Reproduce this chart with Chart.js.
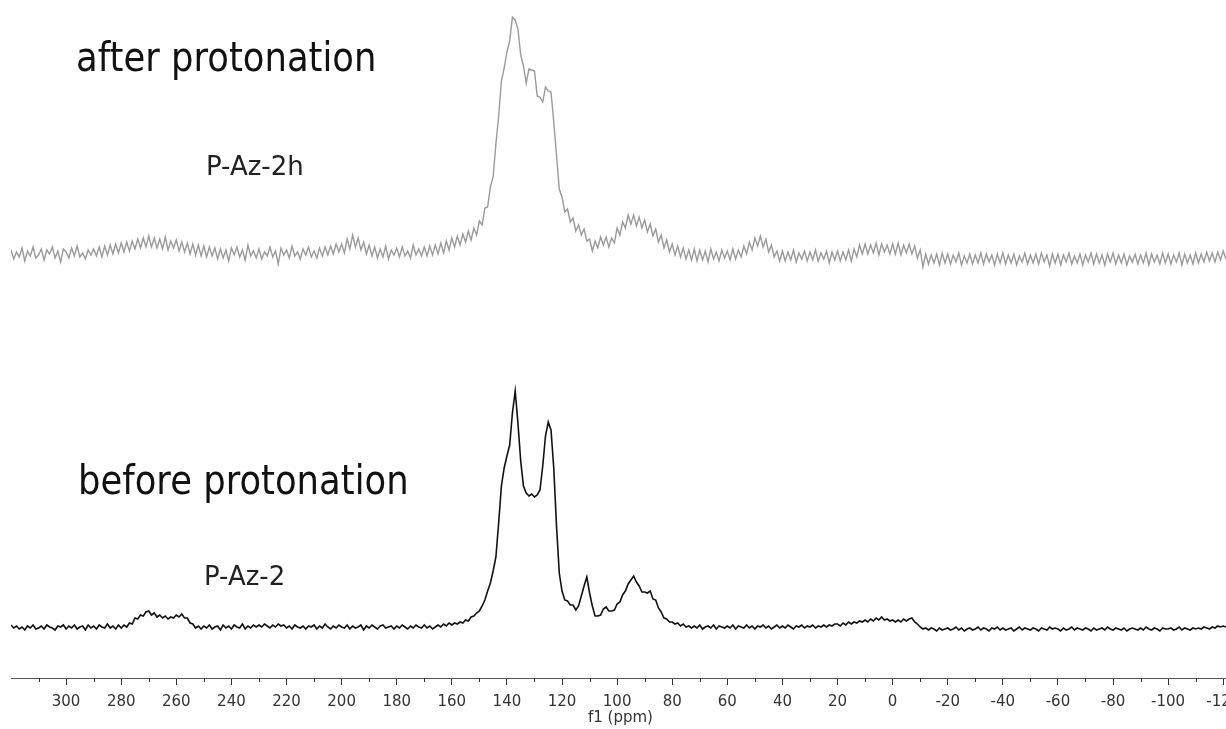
<!DOCTYPE html>
<html lang="en">
<head>
<meta charset="UTF-8">
<title>P-Az-2 spectra before / after protonation</title>
<script src="https://cdn.jsdelivr.net/npm/chart.js"></script>
<style>
  body { margin: 0; background: #fff; }
  #wrap { width: 1226px; height: 729px; overflow: hidden; }
</style>
</head>
<body>
<div id="wrap"><canvas id="nmrChart" width="1226" height="729"></canvas></div>
<script>
    // chemical shift grid: first point and spacing (ppm), one value per ppm
    const ppmStart = 320;
    const ppmStep = 1;

    // tick labels of the f1 axis
    const majorTicks = [300, 280, 260, 240, 220, 200, 180, 160, 140, 120, 100, 80, 60, 40, 20, 0, -20, -40, -60, -80, -100, -120];
    const minorTicks = [310, 290, 270, 250, 230, 210, 190, 170, 150, 130, 110, 90, 70, 50, 30, 10, -10, -30, -50, -70, -90, -110];

    // before protonation (P-Az-2), intensity from 320 to -121 ppm
    const beforeValues = [
        2,-1,1,-2,0,-3,1,-1,2,-2,
        -1,1,-2,2,0,-1,-3,1,0,2,
        -2,1,-1,2,-2,0,1,-3,2,-1,
        1,-2,2,0,-1,3,-1,1,-2,2,
        -1,2,0,4,3,9,8,12,11,15,
        16,12,14,10,12,9,11,8,10,9,
        12,10,13,9,9,4,3,-1,1,-2,
        1,-1,2,-2,0,1,-3,2,-1,1,
        -2,2,0,-1,3,-2,1,-1,2,0,
        2,0,3,1,-1,2,0,3,1,2,
        -1,1,-2,2,0,-1,1,-2,1,0,
        2,-2,1,-1,3,0,-2,1,-1,2,
        0,-1,2,-2,1,-1,0,2,-3,1,
        -1,2,0,-2,1,2,-1,0,1,-2,
        1,-1,2,0,-2,1,-1,2,0,-1,
        2,-1,1,-2,0,2,0,3,1,4,
        2,4,3,5,4,7,6,10,11,14,
        16,21,27,36,44,56,70,104,141,159,
        171,182,214,236,204,166,141,134,131,133,
        130,132,137,161,191,205,197,159,101,54,
        36,27,26,22,22,17,21,31,41,50,
        34,21,11,11,12,18,20,16,16,17,
        23,25,32,36,43,47,51,45,41,35,
        35,34,36,28,27,19,15,9,8,5,
        5,3,4,1,3,0,1,-1,1,-1,
        2,-2,0,1,-1,2,-2,1,0,-1,
        1,-1,2,-2,1,0,-1,2,-1,1,
        -2,1,0,2,-1,1,-2,0,2,-1,
        1,-1,2,0,-2,1,0,2,-1,1,
        0,2,-1,1,0,2,0,2,1,3,
        3,1,4,2,5,3,5,4,6,5,
        7,5,8,6,9,7,10,7,8,6,
        7,5,7,5,8,6,8,9,5,3,
        0,-2,-1,-3,-1,-2,-4,-1,-3,-2,
        -1,-3,-2,0,-3,-1,-4,-2,-1,-3,
        -2,0,-3,-1,-2,-4,-1,-2,0,-3,
        -1,-3,-2,-1,-4,-2,0,-3,-1,-2,
        -3,-1,-2,-4,-1,-2,-3,0,-2,-1,
        -2,-4,-1,-3,-2,0,-3,-1,-2,-3,
        -1,-2,-4,-1,-3,-2,-1,-3,0,-2,
        -3,-1,-2,-3,-1,-4,-2,-1,-2,-3,
        -1,-3,0,-2,-3,-1,-2,-4,-1,-2,
        -2,-1,-3,-2,0,-3,-1,-2,-3,-1,
        -2,-1,-2,0,-1,-2,0,-1,1,0,
        1,0
    ];

    // after protonation (P-Az-2h), intensity from 320 to -121 ppm
    const afterValues = [
        3,-6,1,-4,5,-8,2,-3,6,-5,
        -2,4,-7,3,-1,6,-5,2,-9,4,
        1,-5,5,-3,7,-4,0,-6,3,-2,
        4,-3,6,-4,7,-2,8,-1,9,0,
        10,1,11,2,12,4,14,5,15,6,
        17,6,15,5,14,4,16,3,12,5,
        13,2,11,1,10,-1,9,-2,8,-3,
        7,-4,6,-3,5,-6,4,-5,3,-8,
        5,-2,6,-4,3,-7,8,-3,2,-5,
        4,-6,1,-3,6,-4,2,-11,5,-2,
        3,-5,7,-3,1,-6,4,-2,6,-4,
        2,-5,5,-3,6,-2,7,-1,9,1,
        9,0,14,4,18,6,15,3,11,-1,
        8,-3,6,-5,4,-4,7,-6,3,-2,
        5,-4,6,-3,2,-5,8,-2,4,-3,
        6,-3,7,-2,8,-1,10,0,12,3,
        15,6,17,8,19,11,22,13,25,18,
        32,28,45,46,66,76,109,137,172,185,
        201,212,236,233,224,198,187,170,184,183,
        182,157,156,151,166,162,161,131,98,64,
        56,41,44,31,35,22,28,18,24,12,
        14,2,12,5,16,8,16,6,15,10,
        25,18,31,25,38,29,38,27,36,25,
        33,21,29,17,24,11,18,5,13,1,
        9,-2,7,-4,5,-6,3,-7,4,-8,
        3,-7,2,-9,4,-6,1,-8,3,-5,
        2,-7,4,-6,3,-4,7,-1,11,3,
        15,7,17,6,14,1,8,-4,2,-8,
        2,-8,1,-7,3,-9,0,-6,2,-8,
        1,-7,3,-8,0,-6,2,-10,1,-7,
        2,-8,1,-7,3,-8,4,-4,8,-1,
        9,-1,8,0,10,-2,9,1,8,-1,
        9,-1,10,-2,8,0,9,-1,7,-5,
        3,-14,-1,-11,-2,-10,-1,-12,0,-10,
        -1,-11,-2,-9,0,-12,-3,-10,-1,-11,
        -2,-10,0,-11,-1,-9,-2,-12,-1,-10,
        0,-11,-2,-10,-1,-12,-3,-9,0,-11,
        -2,-10,-1,-11,0,-9,-2,-13,-1,-10,
        -1,-12,-2,-9,0,-11,-3,-10,-1,-12,
        -2,-9,0,-11,-1,-10,-2,-12,-1,-9,
        0,-11,-2,-10,-1,-12,-3,-9,-1,-11,
        -2,-10,0,-12,-1,-9,-2,-11,0,-10,
        -1,-11,-2,-9,0,-12,-1,-10,-2,-11,
        0,-10,-1,-9,1,-8,0,-9,1,-7,
        2,-6
    ];

    const titles = ["after protonation", "before protonation"];
    const sampleNames = ["P-Az-2h", "P-Az-2"];
    const axisTitle = "f1 (ppm)";

    function toPoints(values) {
        return values.map((v, i) => ({ x: ppmStart - i * ppmStep, y: v }));
    }

    // minor ticks, axis title and the texts on the plot
    const extras = {
        id: 'extras',
        afterDraw(chart) {
            const ctx = chart.ctx;
            const xs = chart.scales.x;
            ctx.save();
            ctx.strokeStyle = '#333';
            ctx.lineWidth = 1;
            minorTicks.forEach(t => {
                const px = Math.round(xs.getPixelForValue(t)) + 0.5;
                ctx.beginPath();
                ctx.moveTo(px, xs.top);
                ctx.lineTo(px, xs.top + 4);
                ctx.stroke();
            });

            ctx.fillStyle = '#333';
            ctx.font = '15px "DejaVu Sans"';
            ctx.textAlign = 'center';
            ctx.textBaseline = 'middle';
            ctx.fillText(axisTitle, (xs.left + xs.right) / 2 + 2, xs.top + 40);

            ctx.textAlign = 'left';
            ctx.fillStyle = '#111';
            ctx.textBaseline = 'alphabetic';
            ctx.font = '40px "DejaVu Sans"';
            [[76, 71], [78, 494]].forEach((p, i) => {
                ctx.save();
                ctx.translate(p[0], p[1]);
                ctx.scale(0.885, 1);
                ctx.fillText(titles[i], 0, 0);
                ctx.restore();
            });

            ctx.fillStyle = '#222';
            ctx.font = '26px "DejaVu Sans"';
            ctx.fillText(sampleNames[0], 206, 175);
            ctx.fillText(sampleNames[1], 204, 585);
            ctx.restore();
        }
    };

    const chart = new Chart(document.getElementById("nmrChart"), {
        type: 'line',
        data: {
            datasets: [
                {
                    label: 'P-Az-2h',
                    data: toPoints(afterValues),
                    borderColor: '#9a9a9a',
                    borderWidth: 1.4,
                    pointRadius: 0,
                    tension: 0,
                    yAxisID: 'yUp'
                },
                {
                    label: 'P-Az-2',
                    data: toPoints(beforeValues),
                    borderColor: '#111',
                    borderWidth: 1.6,
                    pointRadius: 0,
                    tension: 0,
                    yAxisID: 'yLow'
                }
            ]
        },
        options: {
            responsive: false,
            animation: false,
            events: [],
            layout: { padding: { left: 11, right: 0, top: 0, bottom: 10 } },
            plugins: {
                legend: { display: false },
                tooltip: { enabled: false }
            },
            scales: {
                x: {
                    type: 'linear',
                    reverse: true,
                    min: -121,
                    max: 320,
                    border: { color: '#555', width: 1 },
                    grid: { drawOnChartArea: false, tickLength: 7, color: '#333' },
                    ticks: {
                        color: '#333',
                        padding: 8,
                        maxRotation: 0,
                        autoSkip: false,
                        font: { family: 'DejaVu Sans', size: 15 }
                    },
                    afterBuildTicks: (scale) => {
                        scale.ticks = majorTicks.map(v => ({ value: v }));
                    },
                    afterFit: (scale) => {
                        scale.paddingLeft = 0;
                        scale.paddingRight = 0;
                    }
                },
                yLow: { display: false, min: -51, max: 627 },
                yUp: { display: false, min: -425, max: 253 }
            }
        },
        plugins: [extras]
    });
</script>
</body>
</html>
